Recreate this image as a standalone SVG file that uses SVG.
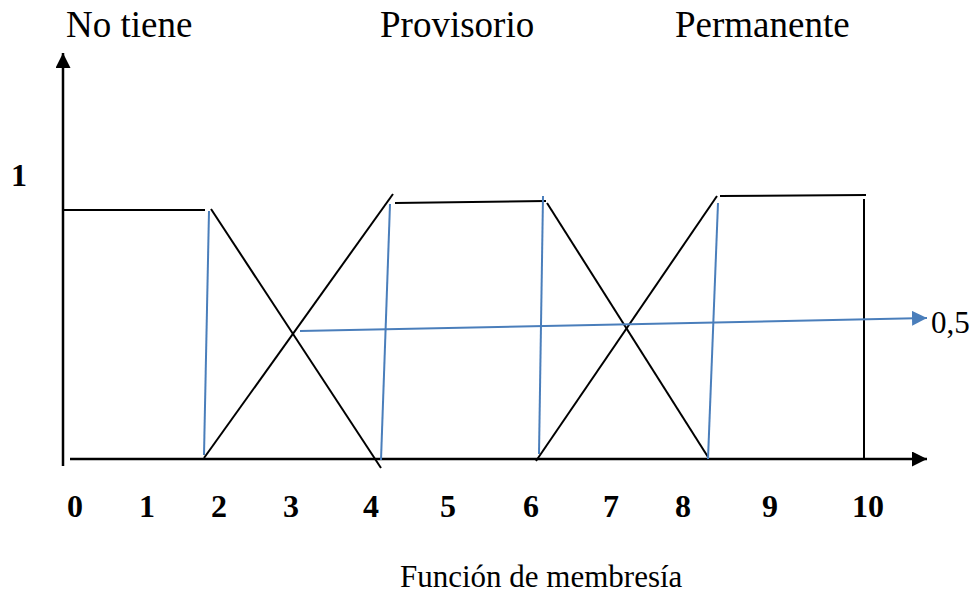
<svg xmlns="http://www.w3.org/2000/svg" width="974" height="595" viewBox="0 0 974 595">
<defs>
<style>
text{font-family:"Liberation Serif","Times New Roman",serif;fill:#000}
.t{font-size:37px}
.n{font-size:32px;font-weight:bold;text-anchor:middle}
.f{stroke:#000;stroke-width:2;fill:none}
.ax{stroke:#000;stroke-width:2.5;fill:none}
.b{stroke:#4a7ebb;stroke-width:2;fill:none}
</style>
<marker id="ah" viewBox="0 0 10 10" refX="10" refY="5" markerWidth="15" markerHeight="15" markerUnits="userSpaceOnUse" orient="auto"><path d="M0,0 L10,5 L0,10 Z" fill="#000"/></marker>
<marker id="bh" viewBox="0 0 10 10" refX="10" refY="5" markerWidth="15" markerHeight="15" markerUnits="userSpaceOnUse" orient="auto"><path d="M0,0 L10,5 L0,10 Z" fill="#4a7ebb"/></marker>
</defs>
<g id="axes">
<line class="ax" x1="63" y1="466" x2="63" y2="53" marker-end="url(#ah)"/>
<line class="ax" x1="70" y1="459" x2="927" y2="459" marker-end="url(#ah)"/>
</g>
<g id="connectors">
<polyline class="f" points="63,210 205,210"/>
<line class="f" x1="211" y1="209" x2="381" y2="468"/>
<line class="f" x1="204" y1="458" x2="393" y2="194"/>
<line class="f" x1="395" y1="203" x2="546" y2="201"/>
<line class="f" x1="547" y1="203" x2="708" y2="457"/>
<line class="f" x1="536" y1="461" x2="717" y2="196"/>
<line class="f" x1="720" y1="196" x2="866" y2="195"/>
<line class="f" x1="864" y1="199" x2="864" y2="459"/>
<line class="b" x1="209" y1="211" x2="204" y2="455"/>
<line class="b" x1="390" y1="204" x2="381" y2="460"/>
<line class="b" x1="543" y1="196" x2="539" y2="454"/>
<line class="b" x1="718" y1="203" x2="708" y2="459"/>
<line class="b" x1="300" y1="331" x2="927" y2="318" marker-end="url(#bh)"/>
</g>
<g id="labels">
<text class="t" x="66" y="37">No tiene</text>
<text class="t" x="380" y="37">Provisorio</text>
<text class="t" x="675" y="37">Permanente</text>
<text style="font-size:31px" x="931" y="333">0,5</text>
<text class="n" x="19" y="186">1</text>
<text class="n" x="75" y="517">0</text>
<text class="n" x="147" y="517">1</text>
<text class="n" x="219" y="517">2</text>
<text class="n" x="291" y="517">3</text>
<text class="n" x="371" y="517">4</text>
<text class="n" x="448" y="517">5</text>
<text class="n" x="531" y="517">6</text>
<text class="n" x="611" y="517">7</text>
<text class="n" x="683" y="517">8</text>
<text class="n" x="770" y="517">9</text>
<text class="n" x="868" y="517">10</text>
<text style="font-size:31px" x="400" y="587">Función de membresía</text>
</g>
</svg>
